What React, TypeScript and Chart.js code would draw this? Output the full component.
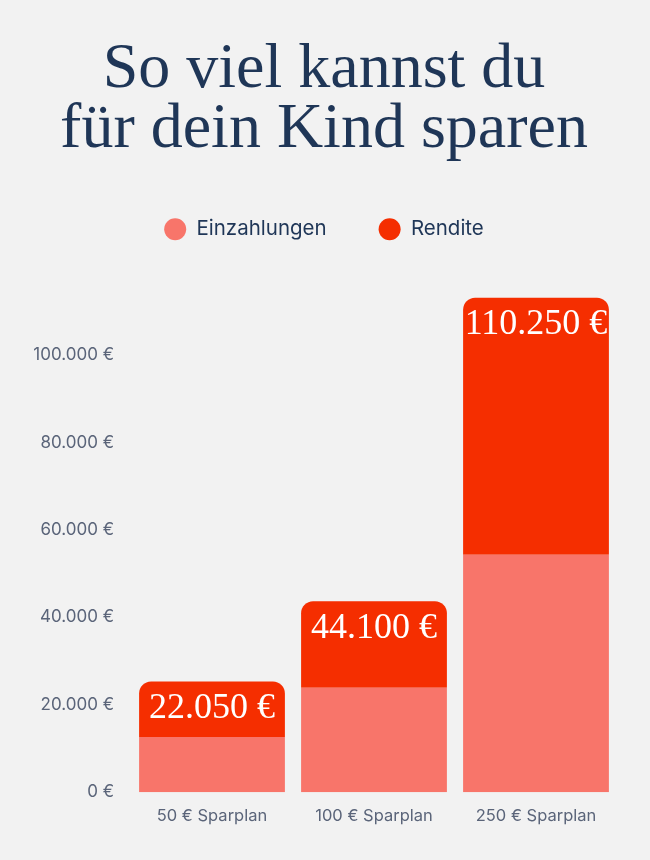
import React, { useEffect, useRef } from "react";
import { Chart, registerables } from "chart.js";

Chart.register(...registerables);

const categories = ["50 € Sparplan", "100 € Sparplan", "250 € Sparplan"];
const einzahlungen = [12600, 23900, 54300];
const rendite = [12700, 19800, 58800];
const totalLabels = [22050, 44100, 110250];
const yTicks = [0, 20000, 40000, 60000, 80000, 100000];
const titleLines = ["So viel kannst du", "für dein Kind sparen"];

const NAVY = "#1f3657";
const GREY = "#5a6479";
const SALMON = "#f8756a";
const RED = "#f52e00";

const fmt = (v: number) => v.toLocaleString("de-DE") + " €";

const totalLabelPlugin = {
  id: "totalLabels",
  afterDatasetsDraw(chart: any) {
    const ctx = chart.ctx;
    const meta = chart.getDatasetMeta(1);
    ctx.save();
    ctx.fillStyle = "#ffffff";
    ctx.font = "36px 'Liberation Serif', serif";
    ctx.textAlign = "center";
    ctx.textBaseline = "middle";
    meta.data.forEach((bar: any, i: number) => {
      ctx.fillText(fmt(totalLabels[i]), bar.x, bar.y + 27);
    });
    ctx.restore();
  },
};

const legendSpacer = {
  id: "legendSpacer",
  beforeInit(chart: any) {
    const legend = chart.legend;
    if (!legend) return;
    const orig = legend.fit;
    legend.fit = function () {
      orig.call(this);
      this.height += 40;
    };
  },
};

export default function App() {
  const ref = useRef<HTMLCanvasElement>(null);
  useEffect(() => {
    document.body.style.margin = "0";
    document.body.style.background = "#f2f2f2";
    if (!ref.current) return;
    const chart = new Chart(ref.current, {
      type: "bar",
      data: {
        labels: categories,
        datasets: [
          {
            label: "Einzahlungen",
            data: einzahlungen,
            backgroundColor: SALMON,
            borderWidth: 0,
            borderRadius: 0,
          },
          {
            label: "Rendite",
            data: rendite,
            backgroundColor: RED,
            borderWidth: 0,
            borderSkipped: false,
            borderRadius: { topLeft: 12, topRight: 12, bottomLeft: 0, bottomRight: 0 },
          },
        ],
      },
      options: {
        animation: false,
        responsive: true,
        maintainAspectRatio: false,
        layout: { padding: { left: 31, right: 33, top: 0, bottom: 20 } },
        datasets: { bar: { categoryPercentage: 1, barPercentage: 0.9 } },
        plugins: {
          tooltip: { enabled: false },
          title: {
            display: true,
            text: titleLines,
            color: NAVY,
            font: { family: "'Liberation Serif', serif", size: 64, weight: "normal", lineHeight: 60 / 64 },
            padding: { top: 40, bottom: 7 },
          },
          legend: {
            display: true,
            position: "top",
            labels: {
              usePointStyle: true,
              pointStyle: "circle",
              boxHeight: 15.5,
              pointStyleWidth: 22,
              padding: 52,
              color: NAVY,
              font: { family: "Inter, sans-serif", size: 20.5 },
            },
          },
        },
        scales: {
          x: {
            stacked: true,
            grid: { display: false, drawTicks: false },
            border: { display: false },
            ticks: {
              color: GREY,
              padding: 14,
              font: { family: "Inter, sans-serif", size: 16.5 },
            },
          },
          y: {
            stacked: true,
            min: 0,
            max: 115000,
            grid: { display: false, drawTicks: false },
            border: { display: false },
            afterFit: (scale: any) => {
              scale.width = 100;
            },
            afterBuildTicks: (scale: any) => {
              scale.ticks = yTicks.map((v) => ({ value: v }));
            },
            ticks: {
              color: GREY,
              padding: 17,
              font: { family: "Inter, sans-serif", size: 17 },
              callback: (v: any) => fmt(Number(v)),
            },
          },
        },
      },
      plugins: [totalLabelPlugin, legendSpacer],
    });
    return () => chart.destroy();
  }, []);
  return (
    <div style={{ width: 650, height: 860, background: "#f2f2f2", position: "relative" }}>
      <canvas ref={ref} />
    </div>
  );
}
